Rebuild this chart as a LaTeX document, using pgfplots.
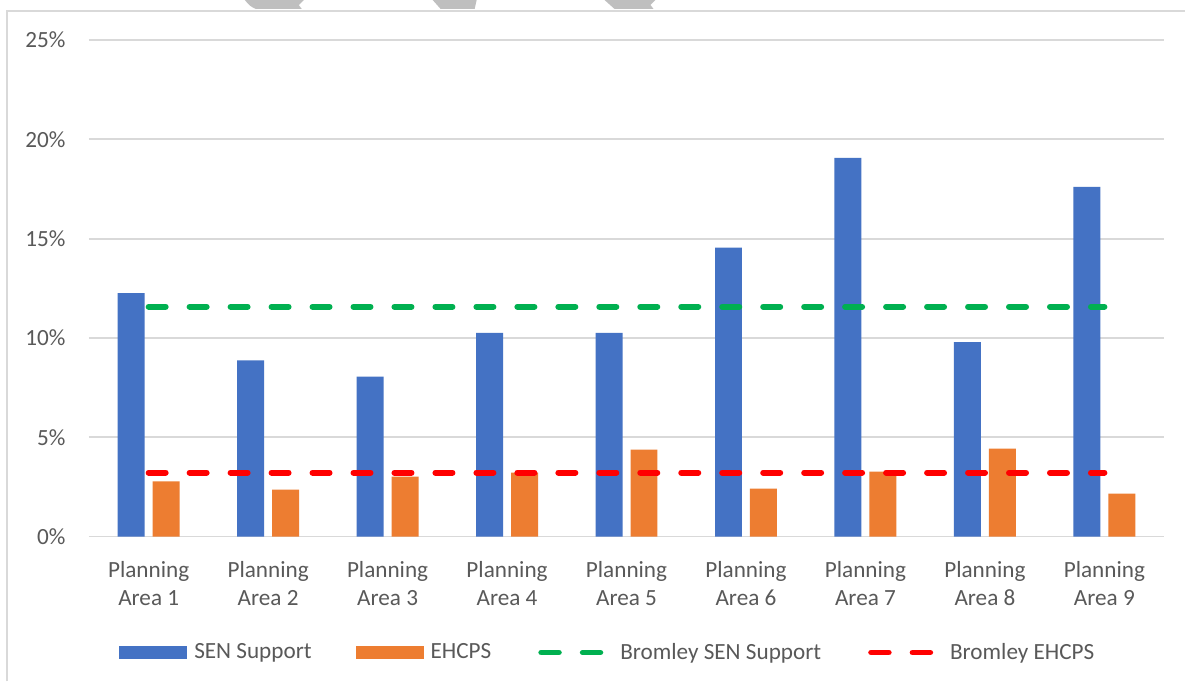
\documentclass[border=0pt]{standalone}
\usepackage{pgfplots}
\pgfplotsset{compat=1.18}
\usepackage{fontspec}
\setmainfont{Carlito}

\definecolor{senblue}{HTML}{4472C4}
\definecolor{ehcorange}{HTML}{ED7D31}
\definecolor{bromgreen}{HTML}{00B050}
\definecolor{bromred}{HTML}{FF0000}
\definecolor{gridgrey}{HTML}{D9D9D9}
\definecolor{textgrey}{HTML}{595959}
\definecolor{shapegrey}{HTML}{BFBFBF}

\newcommand{\lblfont}{\fontsize{11.6}{14}\selectfont}

\begin{document}
\begin{tikzpicture}
    % page is 1186x682 px, 1 px = 0.5pt
    \path[fill=white] (0,0) rectangle (593pt,341pt);
    % grey bits of a shape cut off at the top
    \fill[shapegrey] (122.5pt,341pt) -- (152pt,341pt) -- (149.5pt,338.5pt) -- (151pt,336.5pt) -- (128pt,336.5pt) .. controls (125pt,338pt) .. cycle;
    \fill[shapegrey] (216.5pt,341pt) -- (238.5pt,341pt) -- (237.5pt,336.5pt) -- (220.5pt,336.5pt) -- cycle;
    \fill[shapegrey] (302.5pt,341pt) -- (328pt,341pt) -- (325.5pt,338.5pt) -- (327pt,336.5pt) -- (307.5pt,336.5pt) -- cycle;
    % chart frame (only top and left edges are visible)
    \draw[gridgrey, line width=0.9pt] (3.5pt,0) -- (3.5pt,335.5pt) -- (593pt,335.5pt);

    \begin{axis}[
        scale only axis,
        width=538pt,
        height=248.5pt,
        at={(44.5pt,72.5pt)},
        anchor=south west,
        xmin=0.5, xmax=9.5,
        ymin=0, ymax=25,
        axis line style={draw=none},
        major tick length=0pt,
        ymajorgrids,
        major grid style={draw=gridgrey, line width=0.9pt},
        xtick={1,...,9},
        xticklabels={{Planning\\Area 1},{Planning\\Area 2},{Planning\\Area 3},
            {Planning\\Area 4},{Planning\\Area 5},{Planning\\Area 6},
            {Planning\\Area 7},{Planning\\Area 8},{Planning\\Area 9}},
        ytick={0,5,10,15,20,25},
        yticklabels={0\%,5\%,10\%,15\%,20\%,25\%},
        tick label style={font=\lblfont, text=textgrey, inner sep=0pt},
        xticklabel style={align=center, yshift=-12pt},
        yticklabel style={xshift=-11.5pt},
        legend columns=4,
        legend style={
            at={(0.0279,-0.2334)}, anchor=west,
            draw=none, fill=none, inner sep=0pt,
            font=\lblfont, text=textgrey,
            nodes={inner sep=0pt},
            /tikz/every odd column/.append style={column sep=3.5pt},
            /tikz/every even column/.append style={column sep=22pt},
        },
    ]
    % SEN Support
    \addplot[ybar, bar width=13.5pt, bar shift=-8.75pt, fill=senblue, draw=none,
        legend image code/.code={\fill[senblue] (0pt,-3.25pt) rectangle (34pt,3.25pt);}]
        coordinates {(1,12.26) (2,8.87) (3,8.05) (4,10.26) (5,10.26) (6,14.54) (7,19.06) (8,9.79) (9,17.60)};
    \addlegendentry{SEN Support}
    % EHCPS
    \addplot[ybar, bar width=13.5pt, bar shift=8.75pt, fill=ehcorange, draw=none,
        legend image code/.code={\fill[ehcorange] (0pt,-3.25pt) rectangle (34pt,3.25pt);}]
        coordinates {(1,2.78) (2,2.36) (3,3.02) (4,3.22) (5,4.38) (6,2.41) (7,3.27) (8,4.43) (9,2.16)};
    \addlegendentry{EHCPS}
    % Bromley averages
    \addplot[sharp plot, no marks, bromgreen, line width=3pt, line cap=round,
        dash pattern=on 8.5pt off 12pt,
        legend image code/.code={\path (0pt,0pt) (36pt,0pt);
            \draw[bromgreen, line width=3pt, line cap=round, dash pattern=on 8.75pt off 12pt] (1.5pt,0pt) -- (31pt,0pt);}]
        coordinates {(1,11.57) (9,11.57)};
    \addlegendentry{Bromley SEN Support}
    \addplot[sharp plot, no marks, bromred, line width=3pt, line cap=round,
        dash pattern=on 8.5pt off 12pt,
        legend image code/.code={\path (0pt,0pt) (36pt,0pt);
            \draw[bromred, line width=3pt, line cap=round, dash pattern=on 8.75pt off 12pt] (1.5pt,0pt) -- (31pt,0pt);}]
        coordinates {(1,3.22) (9,3.22)};
    \addlegendentry{Bromley EHCPS}
    \end{axis}
\end{tikzpicture}
\end{document}
